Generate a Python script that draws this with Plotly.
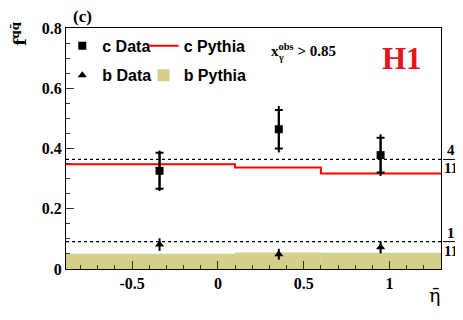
import plotly.graph_objects as go

# measured points (eta-bar bins), c and b fractions
eta_pts = [-0.34, 0.355, 0.948]
f_c = [0.326, 0.464, 0.378]
f_c_stat = [0.060, 0.064, 0.058]
f_c_tot = [0.067, 0.077, 0.069]
f_b = [0.081, 0.049, 0.072]
f_b_err = [0.021, 0.018, 0.020]

# Pythia predictions per bin
bin_edges = [-0.9, 0.1, 0.6, 1.3]
pythia_c = [0.348, 0.337, 0.317]
pythia_b = [0.051, 0.055, 0.054]

# charge-counting expectations
ref_c = 4 / 11
ref_b = 1 / 11

x_tickvals = [-0.5, 0, 0.5, 1]
x_ticktext = ["-0.5", "0", "0.5", "1"]
y_tickvals = [0, 0.2, 0.4, 0.6, 0.8]
y_ticktext = ["0", "0.2", "0.4", "0.6", "0.8"]

serif = "Liberation Serif"
sans = "Liberation Sans"
khaki = "rgb(212,207,138)"

centers = [(a + b) / 2 for a, b in zip(bin_edges[:-1], bin_edges[1:])]
widths = [b - a for a, b in zip(bin_edges[:-1], bin_edges[1:])]

# page has an 8px body margin, so the figure is drawn 8px in from the corner
OFF = 8
W, H = 463 - OFF, 320 - OFF
L, R, T, B = 66 - OFF, 22, 22 - OFF, 51
pw, ph = W - L - R, H - T - B


def px(x, y):
    # page pixel -> paper coords
    return (x - OFF - L) / pw, (H - B - (y - OFF)) / ph


fig = go.Figure()

fig.add_trace(go.Bar(x=centers, y=pythia_b, width=widths, marker=dict(color=khaki, line=dict(width=0)),
                     name="b Pythia", legend="legend4"))
fig.add_trace(go.Scatter(x=bin_edges, y=pythia_c + pythia_c[-1:], mode="lines",
                         line=dict(color="red", width=2, shape="hv"),
                         name="c Pythia", legend="legend2"))

# stat errors with small caps
fig.add_trace(go.Scatter(x=eta_pts, y=f_c, mode="markers", marker=dict(size=1, color="rgba(0,0,0,0)"),
                         error_y=dict(type="data", array=f_c_stat, color="black", thickness=2, width=4),
                         showlegend=False))
fig.add_trace(go.Scatter(x=eta_pts, y=f_c, mode="markers", marker=dict(symbol="square", size=8, color="black"),
                         error_y=dict(type="data", array=f_c_tot, color="black", thickness=2, width=0),
                         name="c Data", legend="legend"))
fig.add_trace(go.Scatter(x=eta_pts, y=f_b, mode="markers", marker=dict(symbol="triangle-up", size=8, color="black"),
                         error_y=dict(type="data", array=f_b_err, color="black", thickness=2, width=0),
                         name="b Data", legend="legend3"))

fx0, _ = px(443, 0)
fx1, _ = px(459, 0)
fxc, _ = px(451, 0)
for num, yv in [("4", ref_c), ("1", ref_b)]:
    fig.add_shape(type="line", xref="paper", x0=0, x1=1, yref="y", y0=yv, y1=yv,
                  line=dict(color="black", width=1.2, dash="dot"))
    fig.add_shape(type="line", xref="paper", x0=fx0, x1=fx1, yref="y", y0=yv, y1=yv,
                  line=dict(color="black", width=1))
    fig.add_annotation(x=fxc, xref="paper", y=yv, yref="y", text="<b>" + num + "</b>", showarrow=False,
                       xanchor="center", yanchor="bottom", borderpad=0,
                       font=dict(family=serif, size=15, color="black"))
    fig.add_annotation(x=fxc, xref="paper", y=yv, yref="y", text="<b>11</b>", showarrow=False,
                       xanchor="center", yanchor="top", borderpad=0,
                       font=dict(family=serif, size=15, color="black"))


def note(x, y, text, size, family=serif, color="black", xanchor="center", angle=0):
    ax, ay = px(x, y)
    fig.add_annotation(x=ax, y=ay, xref="paper", yref="paper", text=text, showarrow=False,
                       xanchor=xanchor, yanchor="middle", textangle=angle,
                       font=dict(family=family, size=size, color=color))


note(82, 10, "<b>(c)</b>", 17)
note(402, 53, "<b>H1</b>", 31, color="rgb(230,20,28)")
note(269, 45, "<b>x<sup>obs</sup> > 0.85</b>", 15, xanchor="left")
note(276, 52, "<b>γ</b>", 10, xanchor="left")
note(19, 28, "<b>f<sup>qq\u0304</sup></b>", 17, family="DejaVu Serif", angle=-90)
note(434, 296, "\u03b7\u0304", 19, family="DejaVu Serif")

axis_common = dict(showline=True, linecolor="black", linewidth=1, mirror=True, ticks="inside",
                   ticklen=8, tickcolor="#333", showgrid=False, zeroline=False,
                   tickfont=dict(family=serif, size=16, color="black"))

legend_common = dict(xanchor="left", yanchor="top", bgcolor="rgba(0,0,0,0)", itemwidth=30,
                     font=dict(family=sans, size=16, color="black"))
row1 = 0.996
row2 = row1 - 30 / ph
col1 = -0.010
col2 = 0.207

fig.update_layout(
    width=W, height=H, margin=dict(l=L, r=R, t=T, b=B),
    plot_bgcolor="white", paper_bgcolor="white",
    xaxis=dict(range=[-0.885, 1.3], tickvals=x_tickvals, ticktext=["<b>%s</b>" % t for t in x_ticktext],
               minor=dict(dtick=0.1, tick0=0, ticks="inside", ticklen=4, tickcolor="#333"), **axis_common),
    yaxis=dict(range=[0, 0.8], tickvals=y_tickvals, ticktext=["<b>%s</b>" % t for t in y_ticktext],
               minor=dict(dtick=0.05, tick0=0, ticks="inside", ticklen=4, tickcolor="#333"), **axis_common),
    legend=dict(x=col1, y=row1, **legend_common),
    legend2=dict(x=col2, y=row1, **legend_common),
    legend3=dict(x=col1, y=row2, **legend_common),
    legend4=dict(x=col2, y=row2, **legend_common),
    showlegend=True,
)
for t in fig.data:
    t.name = "<b>%s</b>" % t.name if t.name else t.name

fig.write_html("out.html")
